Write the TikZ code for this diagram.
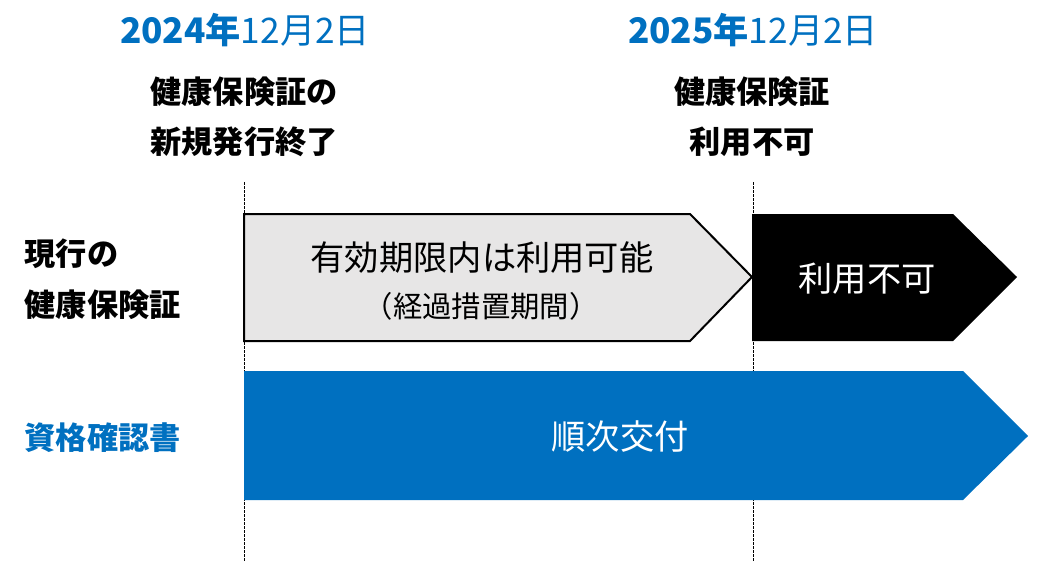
\documentclass[tikz,border=0pt]{standalone}
\usepackage{fontspec}
\setmainfont{Noto Sans CJK JP}
\usetikzlibrary{positioning}
\definecolor{certblue}{HTML}{0070C0}
\definecolor{periodgray}{HTML}{E7E6E6}
\tikzset{
  datetxt/.style={text=certblue, font=\fontsize{26.4}{30}\selectfont},
  headtxt/.style={font=\bfseries\fontsize{23.4}{28}\selectfont},
  bartxt/.style={font=\fontsize{25.7}{30}\selectfont},
  subtxt/.style={font=\fontsize{22}{26}\selectfont},
  divider/.style={thin, dash pattern=on 2pt off 1pt},
}
\begin{document}
\begin{tikzpicture}[x=0.75pt, y=-0.75pt]
  \useasboundingbox (0,0) rectangle (1059,561);
  % timeline dividers
  \coordinate (t0top) at (244,182);
  \coordinate (t0bot) at (244,561);
  \coordinate (t1top) at (753,182);
  \coordinate (t1bot) at (753,561);
  \draw[divider] (t0top) -- (t0bot);
  \draw[divider] (t1top) -- (t1bot);
  % bars
  \draw[line width=1.5pt, fill=periodgray]
    (244,214) -- (690,214) -- (752,277) -- (690,341) -- (244,341) -- cycle;
  \fill[black]
    (752,214) -- (953,214) -- (1017,277) -- (953,341) -- (752,341) -- cycle;
  \fill[certblue]
    (244,371) -- (963,371) -- (1028,436) -- (963,500) -- (244,500) -- cycle;
  % bar labels
  \node[bartxt] (valid) at (482,258) {有効期限内は利用可能};
  \node[subtxt] (transit) at (481,306) {（経過措置期間）};
  \node[bartxt, text=white] (unusable) at (867,279) {利用不可};
  \node[bartxt, text=white] (issue) at (620,437) {順次交付};
  % row labels
  \node[headtxt, anchor=west] (cur1) at (20,254) {現行の};
  \node[headtxt, anchor=west] (cur2) at (20,305) {健康保険証};
  \node[headtxt, anchor=west, text=certblue] (cert) at (20,438) {資格確認書};
  % dates
  \node[datetxt] (date1) at (245,30) {\textbf{2024年}12月2日};
  \node[datetxt] (date2) at (753,30) {\textbf{2025年}12月2日};
  \node[headtxt] (ev1a) at (244,92) {健康保険証の};
  \node[headtxt] (ev1b) at (244,142) {新規発行終了};
  \node[headtxt] (ev2a) at (752,92) {健康保険証};
  \node[headtxt] (ev2b) at (752,142) {利用不可};
\end{tikzpicture}
\end{document}
